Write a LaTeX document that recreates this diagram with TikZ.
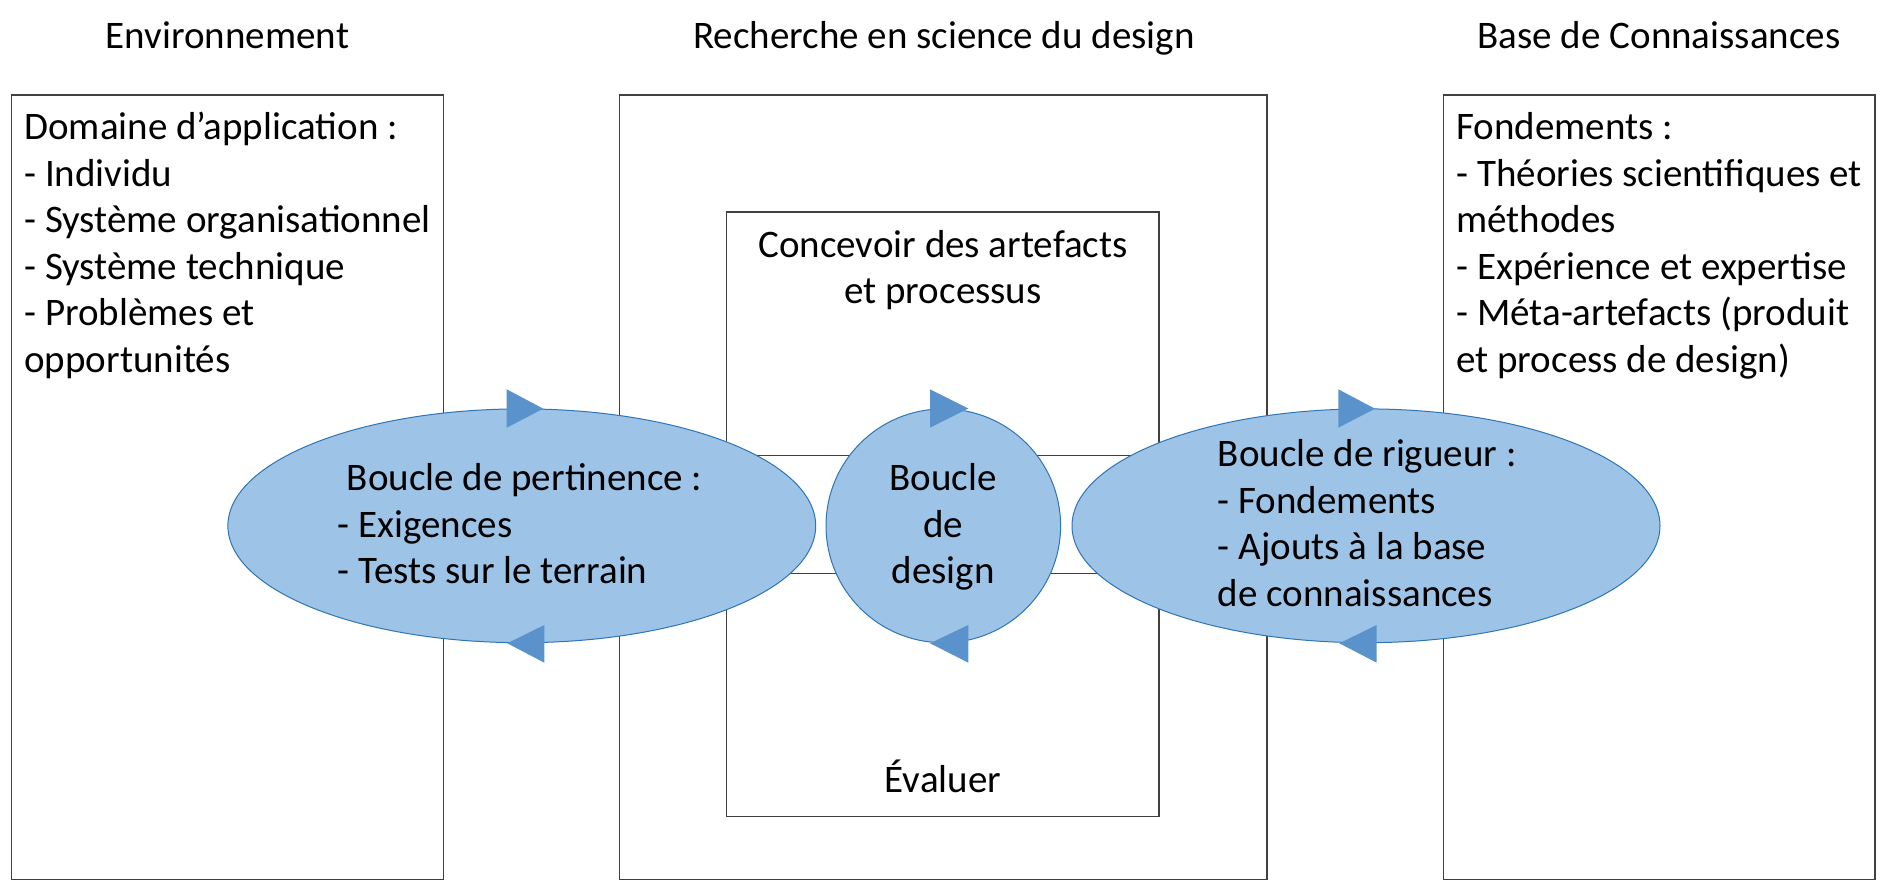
\documentclass[tikz,border=0pt]{standalone}
\usepackage{fontspec}
\setmainfont{Carlito}
\definecolor{boxline}{HTML}{404040}
\definecolor{loopfill}{HTML}{9DC3E6}
\definecolor{loopline}{HTML}{2E75B6}
\definecolor{arrowfill}{HTML}{5A93CB}
\tikzset{
  frame/.style={draw=boxline, line width=0.7pt},
  loop/.style={fill=loopfill, draw=loopline, line width=0.5pt},
  tip/.style={fill=arrowfill, draw=none},
  txt/.style={inner sep=0pt, font=\fontsize{19.5pt}{23.25pt}\selectfont},
}
\begin{document}
\begin{tikzpicture}[x=0.5pt, y=-0.5pt]
\useasboundingbox (0,0) rectangle (1890,881);
% titles
\node[txt, anchor=base] (t1) at (227.5,48.3) {Environnement};
\node[txt, anchor=base] (t2) at (944,48.3) {Recherche en science du design};
\node[txt, anchor=base] (t3) at (1659,48.3) {Base de Connaissances};
% boxes
\draw[frame] (11.5,95) rectangle (443.6,879.3);
\draw[frame] (619.6,95) rectangle (1266.8,879.3);
\draw[frame] (1443.4,95) rectangle (1875,879.3);
\draw[frame] (726.7,212) rectangle (1159,816.7);
\coordinate (l1a) at (726.7,455.7); \coordinate (l1b) at (1159,455.7);
\coordinate (l2a) at (726.7,573.3); \coordinate (l2b) at (1159,573.3);
\draw[frame] (l1a) -- (l1b);
\draw[frame] (l2a) -- (l2b);
% box texts (anchor = baseline of last line)
\node[txt, anchor=base west, align=left] (env) at (24,372.5) {Domaine d’application :\\- Individu\\- Système organisationnel\\- Système technique\\- Problèmes et\\opportunités};
\node[txt, anchor=base west, align=left] (kb) at (1456,372.5) {Fondements :\\- Théories scientifiques et\\méthodes\\- Expérience et expertise\\- Méta-artefacts (produit\\et process de design)};
\node[txt, anchor=base, align=center] (conc) at (943,303.7) {Concevoir des artefacts\\et processus};
\node[txt, anchor=base] (eval) at (943,792.7) {Évaluer};
% loops
\path[loop] (521.8,525.8) ellipse [x radius=293.9, y radius=116.9];
\path[loop] (943.3,525.8) ellipse [x radius=117.3, y radius=116.9];
\path[loop] (1366,525.8) ellipse [x radius=294, y radius=116.9];
% arrow heads
\fill[tip] (506.7,389.3) -- (543.3,408.7) -- (506.7,427.7) -- cycle;
\fill[tip] (544.3,625) -- (507.3,643.3) -- (544.3,662.7) -- cycle;
\fill[tip] (930,389.3) -- (968.3,408.5) -- (930,427.7) -- cycle;
\fill[tip] (968.3,625) -- (930,643.3) -- (968.3,662.7) -- cycle;
\fill[tip] (1338.3,389.3) -- (1375,408.7) -- (1338.3,427.7) -- cycle;
\fill[tip] (1376.7,625) -- (1339.3,643.3) -- (1376.7,662.7) -- cycle;
% loop texts
\node[txt, anchor=base west, align=left] (pert) at (337.5,583.7) {\hspace{4.5pt}Boucle de pertinence :\\- Exigences\\- Tests sur le terrain};
\node[txt, anchor=base, align=center] (dsgn) at (943.3,583.7) {Boucle\\de\\design};
\node[txt, anchor=base west, align=left] (rig) at (1217.4,606.2) {Boucle de rigueur :\\- Fondements\\- Ajouts à la base\\de connaissances};
\end{tikzpicture}
\end{document}
